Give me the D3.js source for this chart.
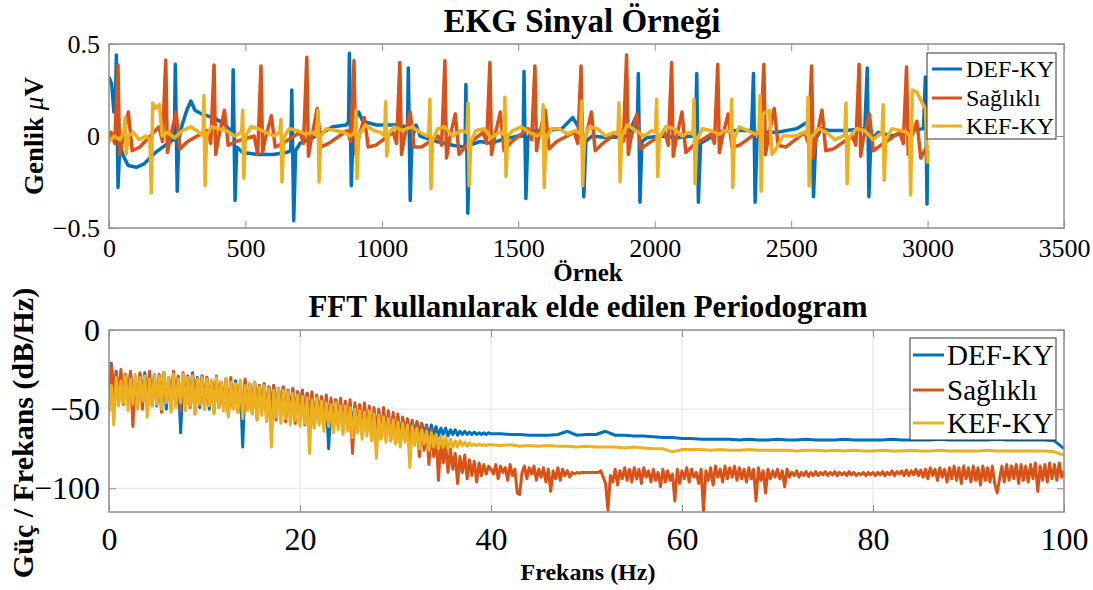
<!DOCTYPE html>
<html>
<head>
<meta charset="utf-8">
<script src="https://cdn.jsdelivr.net/npm/d3@7"></script>
<style>
  body { margin: 0; background: #fff; }
  svg { display: block; }
  text { font-family: "Liberation Serif", "Times New Roman", serif; fill: #000; }
</style>
</head>
<body>
<svg id="chart" width="1093" height="590"></svg>
<script>
// ---------- ECG traces: [sample, amplitude µV] vertices ----------
const ecgDEF = [
  [0,0.32],[10,0.28],[18,0.13],[24,0.2],[27,0.44],[33,-0.28],[40,-0.04],[50,-0.1],[70,-0.16],[100,-0.17],
  [130,-0.15],[170,-0.09],[215,-0.04],[236,-0.02],[240,0.05],[243,0.39],[250,-0.3],[256,-0.02],[268,0.06],[285,0.14],
  [300,0.19],[315,0.14],[340,0.12],[380,0.1],[420,0.07],[445,0.03],[452,0.02],[455,0.36],[462,-0.35],[468,-0.06],
  [490,-0.09],[540,-0.1],[600,-0.1],[650,-0.09],[666,-0.08],[670,0.25],[677,-0.46],[684,-0.08],[700,-0.04],[760,0.0],
  [820,0.05],[870,0.06],[878,0.08],[881,0.45],[888,-0.27],[895,0.04],[905,0.1],[915,0.13],[930,0.08],[980,0.06],
  [1050,0.06],[1090,0.05],[1094,0.04],[1097,0.37],[1104,-0.35],[1110,-0.02],[1125,0.06],[1140,0.0],[1200,-0.03],[1260,-0.05],
  [1300,-0.06],[1305,-0.05],[1308,0.28],[1315,-0.42],[1322,-0.05],[1360,-0.03],[1400,-0.04],[1440,-0.02],[1500,0.0],[1518,0.0],
  [1521,0.35],[1528,-0.34],[1535,-0.01],[1550,0.03],[1600,0.03],[1660,0.04],[1700,0.1],[1720,0.05],[1734,0.12],[1740,-0.33],
  [1748,-0.03],[1770,0.0],[1830,-0.01],[1900,0.0],[1930,0.1],[1936,0.03],[1940,0.34],[1946,-0.36],[1953,-0.03],[1970,-0.01],
  [2020,0.0],[2080,-0.01],[2140,0.0],[2150,0.0],[2154,0.34],[2160,-0.36],[2168,-0.04],[2190,-0.02],[2230,0.02],[2300,0.03],
  [2355,0.03],[2362,0.34],[2368,-0.36],[2375,-0.02],[2400,0.02],[2450,0.02],[2520,0.04],[2565,0.08],[2575,0.13],[2582,-0.33],
  [2590,-0.02],[2610,0.04],[2640,0.03],[2700,0.03],[2770,0.04],[2779,0.37],[2785,-0.33],[2792,-0.02],[2820,0.02],[2870,0.0],
  [2940,0.03],[2985,0.04],[2992,0.32],[2998,-0.37],[3000,-0.08]
];

const ecgHealthy = [
  [0,-0.03],[8,0.02],[21,-0.04],[33,0.386],[39,-0.1],[48,-0.03],[71,0.13],[85,-0.08],[113,-0.06],
  [183,0.05],[196,-0.03],[208,0.413],[214,-0.09],[223,-0.02],[246,0.13],[260,-0.07],[288,-0.03],
  [360,0.03],[373,-0.04],[385,0.386],[391,-0.1],[400,-0.02],[423,0.14],[437,-0.05],[465,-0.03],
  [532,0.0],[545,-0.1],[557,0.38],[563,-0.09],[572,-0.02],[595,0.11],[609,-0.06],[637,-0.04],
  [700,0.02],[713,-0.04],[725,0.428],[731,-0.11],[740,-0.03],[763,0.15],[777,-0.06],[805,-0.04],
  [873,0.03],[886,-0.03],[898,0.41],[904,-0.1],[913,-0.02],[936,0.1],[950,-0.06],[978,-0.05],
  [1041,0.02],[1054,-0.04],[1066,0.40],[1072,-0.1],[1081,-0.02],[1104,0.13],[1118,-0.06],[1146,-0.06],
  [1206,0.0],[1219,-0.05],[1231,0.41],[1237,-0.12],[1246,-0.03],[1269,0.12],[1283,-0.1],[1311,-0.05],
  [1371,0.02],[1384,-0.04],[1396,0.40],[1402,-0.1],[1411,-0.02],[1434,0.13],[1448,-0.08],[1476,-0.03],
  [1536,0.04],[1549,-0.02],[1561,0.38],[1567,-0.08],[1576,0.0],[1599,0.14],[1613,-0.07],[1641,-0.03],
  [1705,0.02],[1718,-0.04],[1730,0.38],[1736,-0.12],[1745,-0.02],[1768,0.13],[1782,-0.08],[1810,-0.04],
  [1872,0.03],[1885,-0.03],[1897,0.44],[1903,-0.1],[1912,-0.02],[1935,0.12],[1949,-0.07],[1977,-0.04],
  [2037,0.02],[2050,-0.05],[2062,0.40],[2068,-0.11],[2077,-0.03],[2100,0.13],[2114,-0.09],[2142,-0.05],
  [2206,0.01],[2219,-0.04],[2231,0.39],[2237,-0.09],[2246,-0.02],[2269,0.12],[2283,-0.06],[2311,-0.05],
  [2375,0.02],[2388,-0.03],[2400,0.39],[2406,-0.1],[2415,-0.02],[2438,0.15],[2452,-0.05],[2480,-0.06],
  [2550,0.02],[2563,-0.04],[2575,0.38],[2581,-0.12],[2590,-0.03],[2613,0.14],[2627,-0.08],[2655,-0.07],
  [2724,0.0],[2737,-0.05],[2749,0.39],[2755,-0.11],[2764,-0.02],[2787,0.12],[2801,-0.08],[2829,-0.05],
  [2898,0.02],[2911,-0.04],[2923,0.375],[2929,-0.1],[2938,-0.02],[2961,0.08],[2975,-0.12],[3000,-0.05]
];

const ecgKEF = [
  [0,-0.03],[20,0.0],[40,-0.02],[55,0.02],[59,0.1],[63,-0.1],[70,0.0],[90,0.02],[110,-0.02],[135,0.0],
  [150,-0.02],[155,-0.31],[160,0.18],[170,0.15],[185,0.17],[195,0.0],[215,0.02],[240,-0.01],[270,0.03],[300,0.05],
  [330,0.02],[344,0.0],[348,0.22],[352,-0.27],[358,0.0],[375,0.05],[400,0.04],[430,0.03],[460,0.0],[486,0.02],
  [490,0.14],[494,-0.23],[500,0.0],[520,0.05],[545,0.04],[575,0.02],[605,0.0],[626,0.02],[630,0.09],[634,-0.25],
  [640,-0.01],[660,0.04],[690,0.03],[720,0.01],[745,0.02],[762,0.0],[766,0.14],[770,-0.25],[776,0.0],[795,0.04],
  [830,0.03],[860,0.02],[885,0.0],[901,0.02],[905,0.14],[909,-0.23],[915,0.0],[940,0.06],[970,0.03],[995,0.02],
  [1010,0.0],[1014,0.186],[1018,-0.11],[1024,0.01],[1045,0.05],[1075,0.03],[1110,0.05],[1140,0.02],[1165,0.0],[1172,0.02],
  [1176,0.2],[1180,-0.285],[1186,-0.02],[1205,0.04],[1230,0.05],[1260,0.0],[1290,0.03],[1312,0.02],[1316,0.18],[1320,-0.27],
  [1326,-0.03],[1345,0.03],[1375,0.04],[1400,-0.01],[1430,0.02],[1447,0.01],[1451,0.21],[1455,-0.22],[1461,0.0],[1480,0.03],
  [1510,0.05],[1540,0.02],[1570,0.0],[1587,0.02],[1591,0.17],[1595,-0.28],[1601,-0.02],[1620,0.04],[1650,0.04],[1680,0.01],
  [1710,0.03],[1728,0.01],[1732,0.19],[1736,-0.27],[1742,-0.02],[1760,0.05],[1790,0.04],[1820,0.0],[1850,0.02],[1865,0.01],
  [1869,0.18],[1873,-0.25],[1879,0.0],[1900,0.06],[1930,0.03],[1960,0.0],[1990,0.03],[2003,0.02],[2007,0.2],[2011,-0.22],
  [2017,-0.01],[2040,0.05],[2070,0.04],[2100,0.0],[2125,0.02],[2140,0.01],[2144,0.2],[2148,-0.26],[2154,-0.02],[2175,0.04],
  [2205,0.03],[2235,0.01],[2260,0.03],[2278,0.02],[2282,0.2],[2286,-0.28],[2292,-0.01],[2310,0.05],[2340,0.03],[2370,0.01],
  [2382,0.02],[2386,0.22],[2390,-0.30],[2396,0.12],[2420,0.14],[2430,-0.1],[2440,-0.08],[2470,0.0],[2520,0.0],[2545,0.02],
  [2558,0.01],[2562,0.21],[2566,-0.27],[2572,-0.01],[2600,0.04],[2630,0.02],[2660,-0.02],[2690,0.0],[2697,0.01],[2701,0.18],
  [2705,-0.26],[2711,-0.01],[2740,0.04],[2770,0.03],[2800,-0.02],[2825,0.01],[2833,0.01],[2837,0.17],[2841,-0.24],[2847,-0.02],
  [2870,0.04],[2900,0.03],[2925,0.02],[2934,0.0],[2938,-0.32],[2944,0.25],[2960,0.24],[2980,0.18],[2992,0.15],[3000,-0.15]
];

// ---------- Periodogram (dB/Hz) ----------
// 0.25 Hz bins over 0–40 Hz for every record
const binsLow = d3.range(0, 40.25, 0.25);
// above 40 Hz: 1 Hz bins for DEF-KY / KEF-KY, 0.25 Hz bins for the noisier Sağlıklı record
const binsHigh1 = d3.range(41, 101, 1);
const binsHigh025 = d3.range(40.25, 100.125, 0.25);

const psdDEFLow = [
  -50,-21,-42,-26,-46,-28,-40,-30,-47,-27,-44,-31,-48,-28,-41,-27,-46,-30,-43,-28,
  -48,-29,-44,-27,-50,-31,-42,-28,-47,-30,-65,-33,-45,-29,-48,-27,-43,-30,-49,-29,
  -46,-30,-50,-32,-44,-31,-49,-33,-47,-31,-52,-34,-48,-32,-51,-35,-74,-33,-50,-34,
  -49,-33,-52,-35,-48,-34,-53,-36,-50,-35,-54,-37,-51,-36,-55,-38,-52,-37,-56,-39,
  -54,-38,-57,-40,-55,-41,-58,-42,-56,-43,-60,-44,-75,-45,-59,-44,-58,-46,-61,-46,
  -60,-47,-62,-48,-61,-49,-63,-50,-62,-51,-64,-52,-63,-52,-65,-53,-64,-54,-65,-55,
  -64,-55,-66,-56,-65,-57,-66,-58,-65,-58,-66,-59,-66,-60,-67,-60,-66,-61,-67,-62,
  -66,-62,-67,-63,-66,-63,-66.5,-64,-66,-64,-66,-64.5,-66,-64.5,-66,-65,-66,-65,-66,-65,
  -65.5
];
const psdDEFHigh = [
  -65.5,-66,-66,-66.5,-66.5,-66.5,-66,-64,-66.5,-66,
  -66,-64,-66.5,-66.5,-67,-67,-67.5,-68,-68,-68.5,
  -68.5,-69,-69,-69,-69,-69.5,-69,-69.5,-69.5,-69,
  -69.5,-69.5,-69,-69.5,-69.5,-69.5,-69,-69.5,-69.5,-69.5,
  -69.5,-69,-69.5,-69.5,-69.5,-69.5,-69,-69.5,-69.5,-69.5,
  -69.5,-69.5,-69,-69.5,-69.5,-69.5,-69.5,-69.5,-70,-75
];

const psdHealthyLow = [
  -48,-22,-44,-27,-40,-25,-47,-28,-42,-26,-61,-30,-45,-27,-50,-29,-43,-26,-48,-30,
  -46,-28,-52,-27,-45,-30,-50,-26,-47,-29,-51,-27,-44,-30,-49,-28,-53,-31,-46,-29,
  -50,-30,-47,-32,-52,-29,-48,-33,-51,-31,-54,-30,-49,-34,-52,-32,-55,-31,-50,-35,
  -53,-33,-56,-35,-50,-34,-55,-36,-52,-35,-57,-37,-54,-36,-58,-38,-55,-37,-59,-39,
  -56,-38,-60,-40,-57,-39,-61,-41,-58,-42,-62,-41,-59,-43,-63,-44,-60,-43,-64,-45,
  -62,-44,-78,-46,-63,-47,-66,-46,-64,-48,-67,-49,-65,-50,-68,-49,-67,-51,-70,-52,
  -69,-53,-72,-55,-70,-56,-74,-57,-72,-58,-80,-59,-76,-61,-85,-63,-80,-66,-95,-70,
  -84,-72,-90,-75,-88,-78,-97,-80,-90,-79,-94,-82,-92,-83,-96,-84,-92,-85,-91,-86,
  -88
];
const psdHealthyHigh = [
  -91,-85,-94,-86,-90,-87,-95,-85,-92,-88,-103,-104,-90,-86,-94,-87,-91,-86,-95,-88,
  -93,-87,-96,-88,-102,-89,-94,-87,-95,-88,-92,-89,-93,-90,-91,-90,-90.5,-90,-90,-90,
  -90,-90,-90,-90,-90,-89,-93,-97,-114,-92,-96,-88,-98,-89,-94,-87,-95,-88,-96,-87,
  -94,-88,-97,-87,-93,-89,-96,-88,-95,-90,-99,-88,-96,-89,-95,-91,-108,-88,-97,-89,
  -94,-87,-96,-88,-93,-90,-97,-88,-115,-89,-95,-87,-98,-86,-93,-88,-96,-86,-94,-87,
  -93,-86,-95,-87,-94,-88,-96,-87,-94,-88,-108,-87,-95,-89,-103,-88,-94,-89,-93,-88,
  -94,-89,-99,-88,-93,-90,-92,-89,-93,-90,-92,-89.5,-92.5,-90,-92,-89.5,-92,-90,-91.5,-89.5,
  -92,-90,-91.5,-89.5,-92,-90,-91.5,-90,-92,-89.5,-91.5,-90,-92,-90.5,-91.5,-90,-92,-90,-91.5,-90,
  -92,-90,-91.5,-89.5,-92,-90,-91.5,-89,-92,-89.5,-91,-89,-92,-88.5,-92,-89,-91.5,-88,-92,-88.5,
  -93,-88,-94,-87,-92,-88,-95,-87,-93,-88,-96,-87,-94,-86,-95,-87,-97,-86,-94,-87,
  -96,-86,-95,-87,-98,-86,-95,-87,-96,-86,-97,-103,-94,-86,-96,-85,-95,-86,-94,-85,
  -97,-85,-95,-86,-96,-85,-94,-84,-102,-86,-95,-85,-96,-84,-94,-85,-95,-84,-93,-89
];

const psdKEFLow = [
  -52,-35,-60,-30,-48,-32,-46,-29,-51,-31,-47,-28,-50,-30,-45,-29,-55,-31,-48,-28,
  -47,-29,-50,-27,-46,-30,-52,-28,-49,-31,-46,-28,-51,-30,-48,-29,-53,-31,-47,-30,
  -50,-31,-48,-32,-53,-30,-49,-33,-51,-31,-55,-33,-50,-34,-52,-32,-56,-35,-51,-34,
  -53,-33,-57,-36,-54,-35,-58,-37,-74,-38,-55,-37,-59,-38,-56,-39,-60,-40,-57,-41,
  -61,-42,-59,-43,-78,-44,-62,-43,-60,-45,-64,-46,-61,-47,-65,-46,-63,-48,-66,-48,
  -64,-49,-68,-50,-65,-51,-69,-52,-67,-51,-70,-53,-81,-54,-69,-55,-71,-56,-70,-57,
  -72,-58,-74,-59,-71,-60,-87,-61,-73,-62,-75,-63,-72,-64,-76,-65,-74,-66,-75,-67,
  -74,-68,-75,-69,-74,-70,-74,-70,-73,-71,-73.5,-71.5,-73,-72,-73,-72,-73,-72.5,-73,-72.5,
  -72.5
];
const psdKEFHigh = [
  -73,-72.5,-73.5,-73,-73.5,-73,-73.5,-73.5,-74,-73.5,
  -74,-74,-74,-74.5,-74,-74.5,-75,-75,-77,-75.5,
  -75.5,-75.5,-76,-75.5,-76,-76,-75.5,-76,-76,-76,
  -76,-76.5,-76,-76,-76.5,-76,-76.5,-76,-76.5,-76.5,
  -76,-76.5,-76.5,-76,-76.5,-76.5,-76,-76.5,-76.5,-76.5,
  -76.5,-76,-76.5,-76.5,-76.5,-76.5,-76.5,-76.5,-77,-79
];

const seriesNames = ["DEF-KY", "Sağlıklı", "KEF-KY"];
const seriesColors = ["#0072BD", "#D95319", "#EDB120"];

const ecgTicksX = [0, 500, 1000, 1500, 2000, 2500, 3000, 3500];
const ecgTicksY = [-0.5, 0, 0.5];
const psdTicksX = [0, 20, 40, 60, 80, 100];
const psdTicksY = [-100, -50, 0];

// ---------- drawing ----------
const svg = d3.select("#chart");
const defs = svg.append("defs");
const axisGray = "#8f8f8f";
const tickLen = 7;

function drawFrame(g, x, y, ticksX, ticksY, opts) {
  const [x0, x1] = x.range();
  const [y0, y1] = y.range(); // y0 bottom, y1 top

  if (opts.grid) {
    g.append("g").selectAll("line").data(ticksX).join("line")
      .attr("x1", d => x(d)).attr("x2", d => x(d)).attr("y1", y1).attr("y2", y0)
      .attr("stroke", "#e3e3e3").attr("stroke-width", 1);
    g.append("g").selectAll("line").data(ticksY).join("line")
      .attr("x1", x0).attr("x2", x1).attr("y1", d => y(d)).attr("y2", d => y(d))
      .attr("stroke", "#e3e3e3").attr("stroke-width", 1);
  }

  // bottom axis with labels, inward ticks
  g.append("g").attr("transform", `translate(0,${y0})`)
    .call(d3.axisBottom(x).tickValues(ticksX).tickSize(-tickLen).tickPadding(opts.padX).tickFormat(d3.format("")))
    .call(a => a.select(".domain").remove())
    .call(a => a.selectAll("line").attr("stroke", axisGray))
    .call(a => a.selectAll("text").attr("font-size", opts.tickFont).attr("fill", "#111"));
  // top ticks (no labels)
  g.append("g").attr("transform", `translate(0,${y1})`)
    .call(d3.axisTop(x).tickValues(ticksX).tickSize(-tickLen).tickFormat(""))
    .call(a => a.select(".domain").remove())
    .call(a => a.selectAll("line").attr("stroke", axisGray));
  // left axis with labels
  g.append("g").attr("transform", `translate(${x0},0)`)
    .call(d3.axisLeft(y).tickValues(ticksY).tickSize(-tickLen).tickPadding(opts.padY).tickFormat(d3.format("")))
    .call(a => a.select(".domain").remove())
    .call(a => a.selectAll("line").attr("stroke", axisGray))
    .call(a => a.selectAll("text").attr("font-size", opts.tickFont).attr("fill", "#111"));
  // right ticks
  g.append("g").attr("transform", `translate(${x1},0)`)
    .call(d3.axisRight(y).tickValues(ticksY).tickSize(-tickLen).tickFormat(""))
    .call(a => a.select(".domain").remove())
    .call(a => a.selectAll("line").attr("stroke", axisGray));
}

function drawBox(g, x, y) {
  const [x0, x1] = x.range();
  const [y0, y1] = y.range();
  g.append("rect").attr("x", x0).attr("y", y1).attr("width", x1 - x0).attr("height", y0 - y1)
    .attr("fill", "none").attr("stroke", axisGray).attr("stroke-width", 1.5);
}

function drawLegend(g, x, y, w, h, rowYs, lineX0, lineX1, textX, fontSize) {
  const lg = g.append("g");
  lg.append("rect").attr("x", x).attr("y", y).attr("width", w).attr("height", h)
    .attr("fill", "#fff").attr("stroke", "#333").attr("stroke-width", 1);
  seriesNames.forEach((name, i) => {
    lg.append("line").attr("x1", lineX0).attr("x2", lineX1).attr("y1", rowYs[i]).attr("y2", rowYs[i])
      .attr("stroke", seriesColors[i]).attr("stroke-width", 3);
    lg.append("text").attr("x", textX).attr("y", rowYs[i]).attr("dy", "0.35em")
      .attr("font-size", fontSize).text(name);
  });
}

// ===== Upper panel: ECG signals =====
const xE = d3.scaleLinear().domain([0, 3500]).range([109, 1064]);
const yE = d3.scaleLinear().domain([-0.5, 0.5]).range([228, 44]);
const ecgPanel = svg.append("g");

defs.append("clipPath").attr("id", "clipEcg")
  .append("rect").attr("x", 109).attr("y", 44).attr("width", 955).attr("height", 184);

drawFrame(ecgPanel, xE, yE, ecgTicksX, ecgTicksY, { grid: false, padX: 11, padY: 9, tickFont: 26 });

const ecgLine = d3.line().x(d => xE(d[0])).y(d => yE(d[1]));
const ecgData = [ecgDEF, ecgHealthy, ecgKEF];
ecgPanel.append("g").attr("clip-path", "url(#clipEcg)")
  .selectAll("path").data(ecgData).join("path")
  .attr("d", ecgLine).attr("fill", "none")
  .attr("stroke", (d, i) => seriesColors[i]).attr("stroke-width", 3.5)
  .attr("stroke-linejoin", "round");

drawBox(ecgPanel, xE, yE);
drawLegend(ecgPanel, 927, 53, 129, 86, [69, 98, 126], 932, 962, 966, 24);

ecgPanel.append("text").attr("x", 582).attr("y", 32).attr("text-anchor", "middle")
  .attr("font-size", 33).attr("font-weight", "bold").text("EKG Sinyal Örneği");
ecgPanel.append("text").attr("x", 588).attr("y", 281).attr("text-anchor", "middle")
  .attr("font-size", 25).attr("font-weight", "bold").text("Örnek");
const ylab1 = ecgPanel.append("text").attr("transform", "translate(43,136) rotate(-90)")
  .attr("text-anchor", "middle").attr("font-size", 27).attr("font-weight", "bold");
ylab1.append("tspan").text("Genlik ");
ylab1.append("tspan").attr("font-style", "italic").attr("font-weight", "normal").text("μ");
ylab1.append("tspan").text("V");

// ===== Lower panel: periodogram =====
const xF = d3.scaleLinear().domain([0, 100]).range([109, 1064]);
const yF = d3.scaleLinear().domain([-115, 0]).range([512, 330]);
const psdPanel = svg.append("g");

defs.append("clipPath").attr("id", "clipPsd")
  .append("rect").attr("x", 109).attr("y", 330).attr("width", 955).attr("height", 182);

drawFrame(psdPanel, xF, yF, psdTicksX, psdTicksY, { grid: true, padX: 15, padY: 9, tickFont: 32 });

const pairUp = (bins, vals) => bins.map((f, i) => [f, vals[i]]);
const psdLine = d3.line().x(d => xF(d[0])).y(d => yF(d[1]));
const psdData = [
  [...pairUp(binsLow, psdDEFLow), ...pairUp(binsHigh1, psdDEFHigh)],
  [...pairUp(binsLow, psdHealthyLow), ...pairUp(binsHigh025, psdHealthyHigh)],
  [...pairUp(binsLow, psdKEFLow), ...pairUp(binsHigh1, psdKEFHigh)]
];
psdPanel.append("g").attr("clip-path", "url(#clipPsd)")
  .selectAll("path").data(psdData).join("path")
  .attr("d", psdLine).attr("fill", "none")
  .attr("stroke", (d, i) => seriesColors[i]).attr("stroke-width", 3)
  .attr("stroke-linejoin", "round");

drawBox(psdPanel, xF, yF);
drawLegend(psdPanel, 910, 338, 146, 102, [355, 390, 423], 913, 944, 947, 29);

psdPanel.append("text").attr("x", 588).attr("y", 317).attr("text-anchor", "middle")
  .attr("font-size", 31).attr("font-weight", "bold").text("FFT kullanılarak elde edilen Periodogram");
psdPanel.append("text").attr("x", 588).attr("y", 580).attr("text-anchor", "middle")
  .attr("font-size", 24).attr("font-weight", "bold").text("Frekans (Hz)");
psdPanel.append("text").attr("transform", "translate(33,433) rotate(-90)")
  .attr("text-anchor", "middle").attr("font-size", 30).attr("font-weight", "bold")
  .text("Güç / Frekans (dB/Hz)");
</script>
</body>
</html>
